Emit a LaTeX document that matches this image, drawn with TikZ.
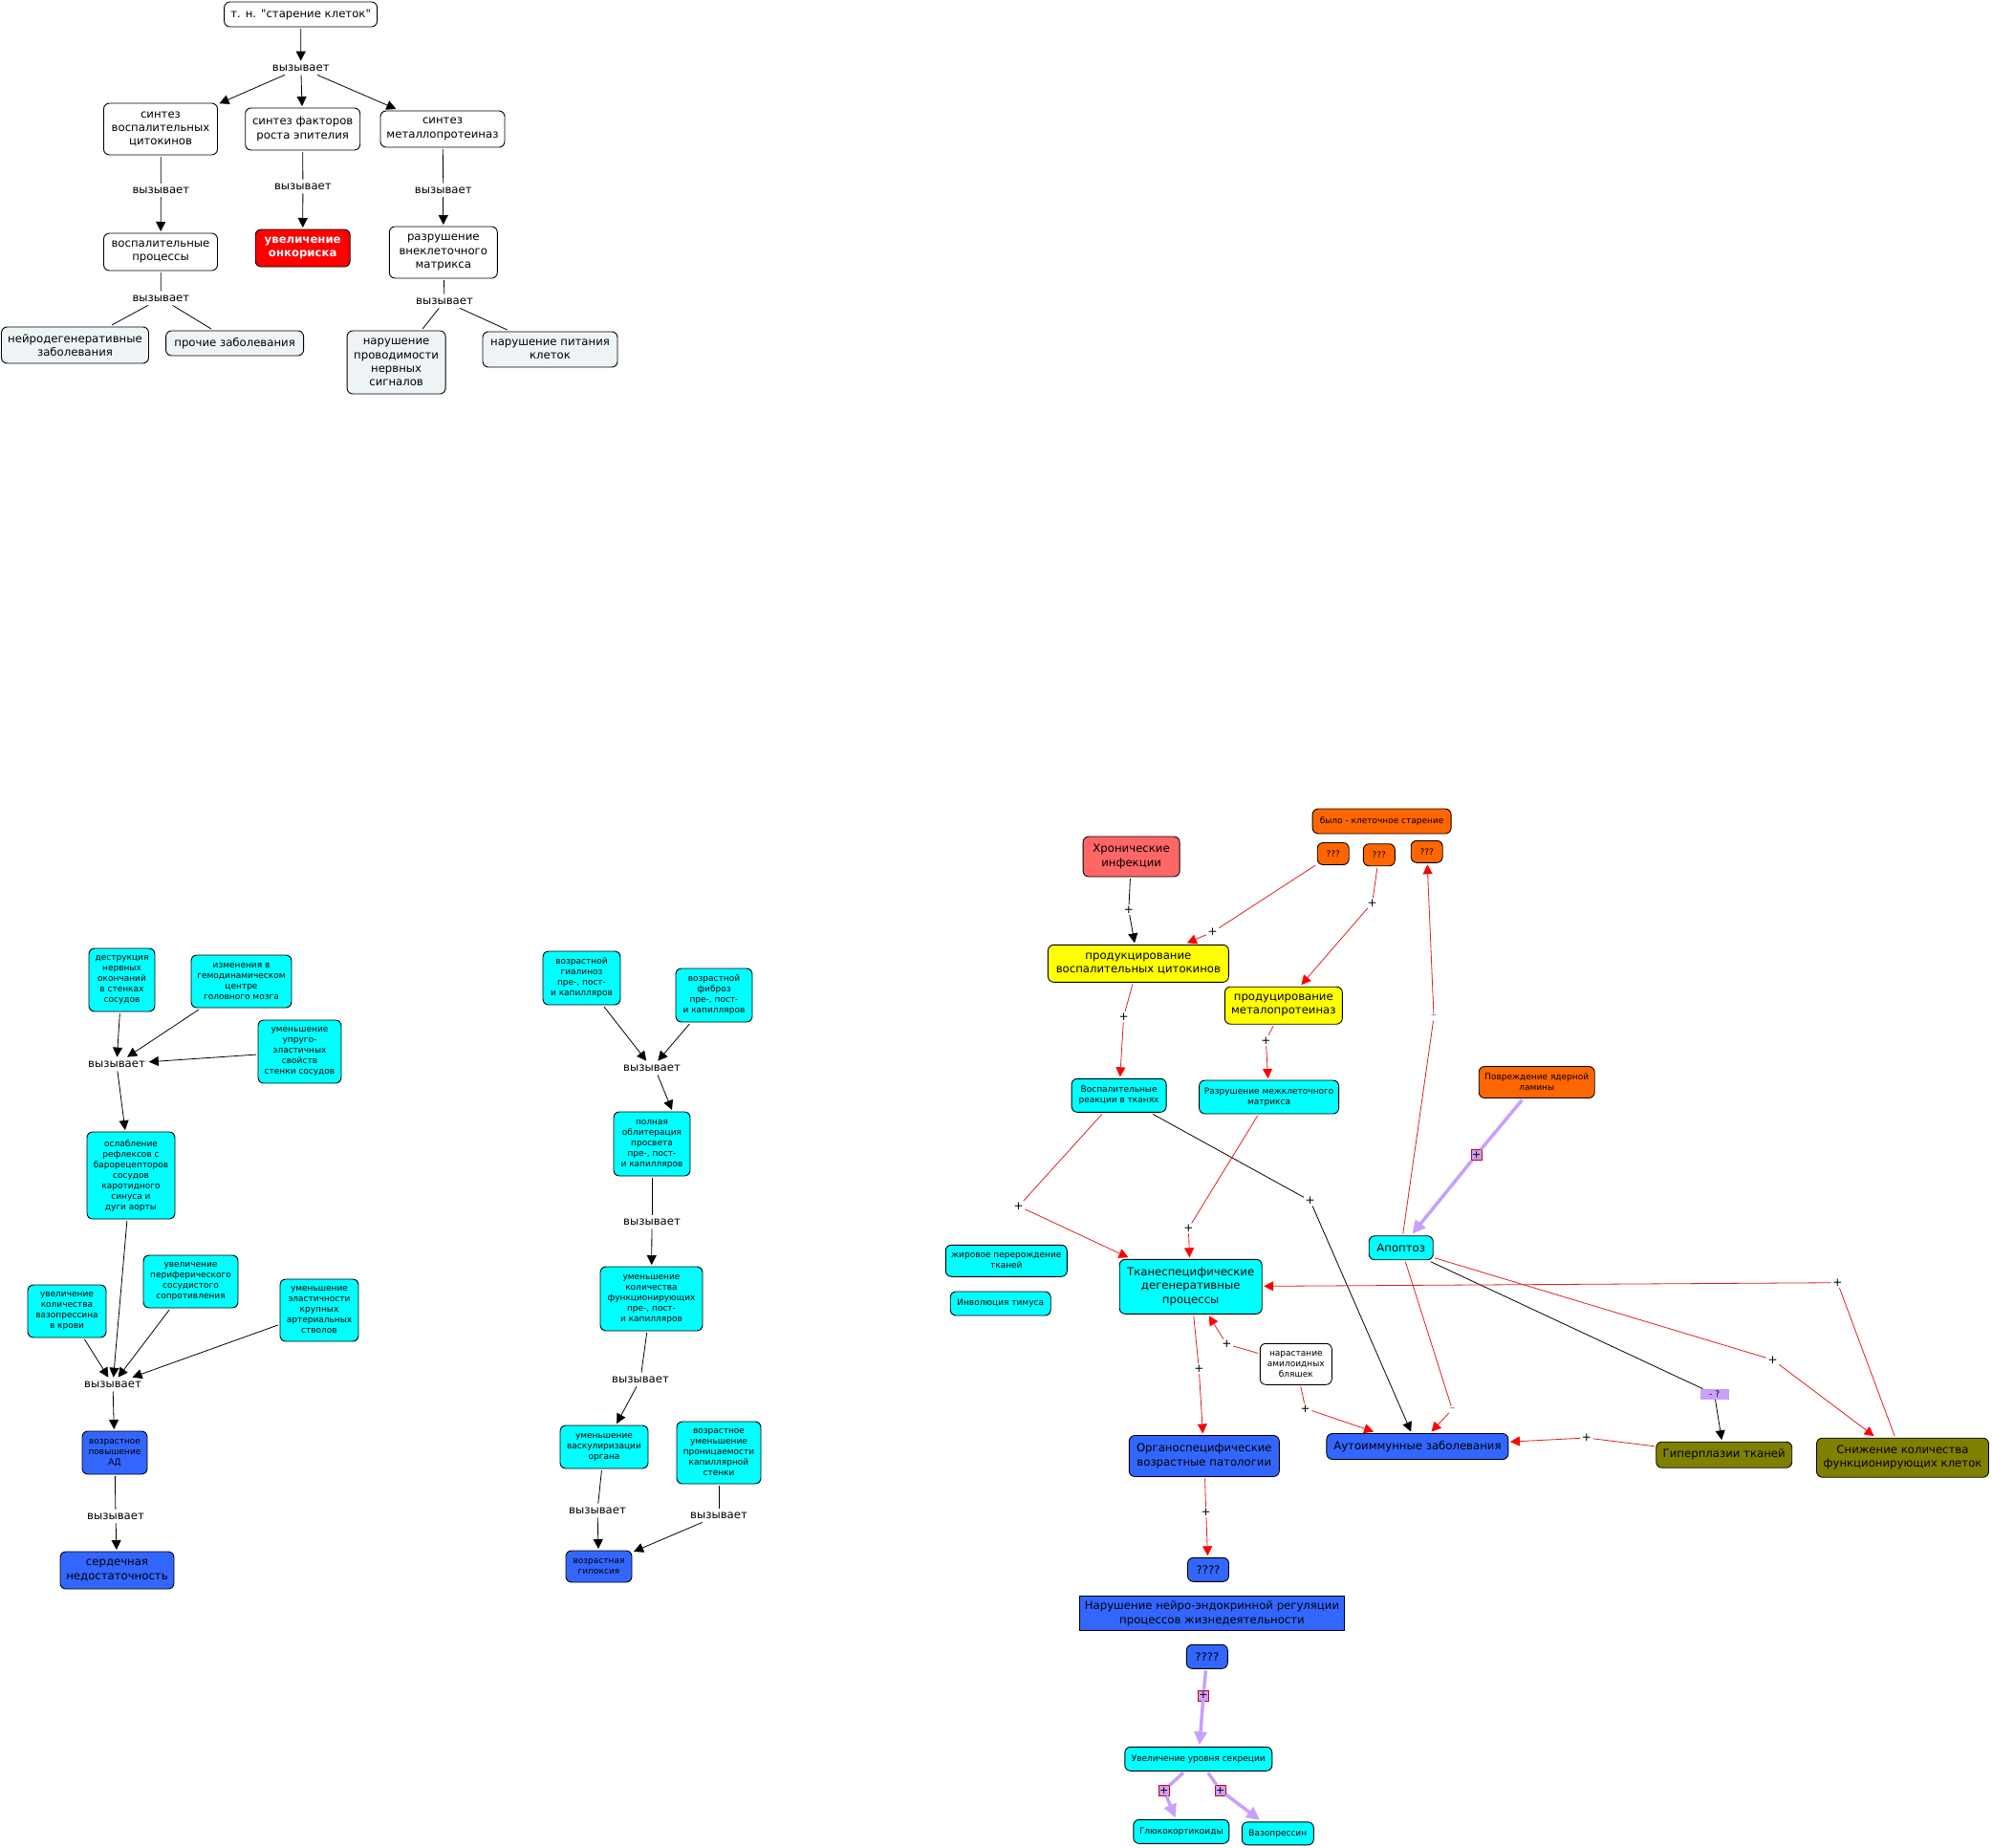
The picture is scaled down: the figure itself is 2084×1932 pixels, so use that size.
\documentclass[tikz,border=0pt]{standalone}
\usepackage{fontspec}
\setmainfont{DejaVu Sans}[Ligatures=TeXOff]
\usetikzlibrary{arrows.meta}
\definecolor{boxcyan}{RGB}{0,255,255}
\definecolor{boxblue}{RGB}{51,102,255}
\definecolor{boxyellow}{RGB}{255,255,0}
\definecolor{boxorange}{RGB}{255,102,0}
\definecolor{boxsalmon}{RGB}{255,102,102}
\definecolor{boxolive}{RGB}{128,128,0}
\definecolor{boxgrey}{RGB}{238,243,246}
\definecolor{linkred}{RGB}{225,30,30}
\definecolor{linkpurple}{RGB}{200,160,255}

\tikzset{
  concept/.style={draw, rounded corners=6pt, align=center, inner sep=1pt, outer sep=2pt,
    line width=0.9pt, font=\fontsize{11.7}{14.3}\selectfont},
  smalltext/.style={font=\fontsize{9}{11}\selectfont},
  greybox/.style={concept, fill=boxgrey},
  cyanbox/.style={concept, fill=boxcyan},
  bluebox/.style={concept, fill=boxblue},
  yellowbox/.style={concept, fill=boxyellow},
  orangebox/.style={concept, fill=boxorange},
  olivebox/.style={concept, fill=boxolive},
  linkword/.style={inner sep=3pt, outer sep=1pt, font=\fontsize{11.7}{14}\selectfont},
  sign/.style={inner sep=1.5pt, font=\fontsize{12}{12}\selectfont},
  boxsign/.style={draw=red!80!black, fill=linkpurple, inner sep=0pt, line width=0.6pt,
    minimum size=11, font=\fontsize{11}{11}\selectfont},
  plain/.style={line width=0.8pt},
  causal/.style={plain, -{Triangle[length=10pt,width=10pt]}},
  redlink/.style={linkred, line width=0.8pt},
  redarrow/.style={redlink, -{Triangle[length=10pt,width=10pt,fill=red,color=red]}},
  purplearrow/.style={linkpurple, line width=3.5pt, -{Triangle[length=14pt,width=13pt]}}
}

\begin{document}
\begin{tikzpicture}[x=1pt, y=-1pt]
    \useasboundingbox (0,0) rectangle (2084,1932);
    \fill[white] (0,0) rectangle (2084,1932);

    % Cell senescence map
    \node[concept, minimum width=160, minimum height=26] (senescence) at (314.6,15) {т. н. "старение клеток"};
    \node[linkword] (causes0) at (314.8,71) {вызывает};
    \node[concept, minimum width=119, minimum height=54] (cytok) at (168,135) {синтез\\воспалительных\\цитокинов};
    \node[concept, minimum width=120, minimum height=44] (growth) at (316.7,135) {синтез факторов\\роста эпителия};
    \node[concept, minimum width=130, minimum height=38] (metal) at (463,135) {синтез\\металлопротеиназ};
    \node[linkword] (causes1) at (168.4,199) {вызывает};
    \node[linkword] (causes2) at (316.9,195) {вызывает};
    \node[linkword] (causes3) at (463.8,199) {вызывает};
    \node[concept, minimum width=119, minimum height=39] (inflam) at (168,263.5) {воспалительные\\процессы};
    \node[concept, fill=red, text=white, minimum width=99, minimum height=39,
      font=\fontsize{11.7}{14.3}\selectfont\bfseries] (onco) at (316.7,259.5) {увеличение\\онкориска};
    \node[concept, minimum width=113, minimum height=54] (matrix) at (463.8,264) {разрушение\\внеклеточного\\матрикса};
    \node[linkword] (causes4) at (168.4,312) {вызывает};
    \node[linkword] (causes5) at (465,315) {вызывает};
    \node[greybox, minimum width=154, minimum height=38] (neuro) at (78.5,361) {нейродегенеративные\\заболевания};
    \node[greybox, minimum width=144, minimum height=26] (other) at (245.6,359) {прочие заболевания};
    \node[greybox, minimum width=103, minimum height=66] (conduct) at (414.6,379) {нарушение\\проводимости\\нервных\\сигналов};
    \node[greybox, minimum width=141, minimum height=37] (nutrit) at (575.5,365.5) {нарушение питания\\клеток};

    \draw[causal] (senescence) -- (causes0);
    \draw[causal] (causes0) -- (cytok);
    \draw[causal] (causes0) -- (growth);
    \draw[causal] (causes0) -- (metal);
    \draw[plain] (cytok) -- (causes1);
    \draw[causal] (causes1) -- (inflam);
    \draw[plain] (growth) -- (causes2);
    \draw[causal] (causes2) -- (onco);
    \draw[plain] (metal) -- (causes3);
    \draw[causal] (causes3) -- (matrix);
    \draw[plain] (inflam) -- (causes4);
    \draw[plain] (causes4) -- (neuro);
    \draw[plain] (causes4) -- (other);
    \draw[plain] (matrix) -- (causes5);
    \draw[plain] (causes5) -- (conduct);
    \draw[plain] (causes5) -- (nutrit);

    % Blood pressure
    \node[cyanbox, smalltext, minimum width=69, minimum height=66] (destr) at (127.5,1025) {деструкция\\нервных\\окончаний\\в стенках\\сосудов};
    \node[cyanbox, smalltext, minimum width=105, minimum height=55] (hemo) at (252.5,1026.5) {изменения в\\гемодинамическом\\центре\\головного мозга};
    \node[cyanbox, smalltext, minimum width=87, minimum height=66] (elast) at (313.5,1100) {уменьшение\\упруго-\\эластичных\\свойств\\стенки сосудов};
    \node[linkword] (causesA) at (122,1113) {вызывает};
    \node[cyanbox, smalltext, minimum width=92, minimum height=91] (baro) at (137,1229.5) {ослабление\\рефлексов с\\барорецепторов\\сосудов\\каротидного\\синуса и\\дуги аорты};
    \node[cyanbox, smalltext, minimum width=82, minimum height=55] (vaso) at (70,1371.5) {увеличение\\количества\\вазопрессина\\в крови};
    \node[cyanbox, smalltext, minimum width=99, minimum height=55] (perif) at (199.5,1340.5) {увеличение\\периферического\\сосудистого\\сопротивления};
    \node[cyanbox, smalltext, minimum width=82, minimum height=65] (arter) at (334,1370.5) {уменьшение\\эластичности\\крупных\\артериальных\\стволов};
    \node[linkword] (causesB) at (118,1448) {вызывает};
    \node[bluebox, smalltext, minimum width=68, minimum height=45] (pressure) at (120,1519.5) {возрастное\\повышение\\АД};
    \node[linkword] (causesC) at (121,1586) {вызывает};
    \node[bluebox, minimum width=119, minimum height=39] (heart) at (122.5,1642.5) {сердечная\\недостаточность};

    \draw[causal] (destr) -- (causesA);
    \draw[causal] (hemo) -- (causesA);
    \draw[causal] (elast) -- (causesA);
    \draw[causal] (causesA) -- (baro);
    \draw[causal] (baro) -- (causesB);
    \draw[causal] (vaso) -- (causesB);
    \draw[causal] (perif) -- (causesB);
    \draw[causal] (arter) -- (causesB);
    \draw[causal] (causesB) -- (pressure);
    \draw[plain] (pressure) -- (causesC);
    \draw[causal] (causesC) -- (heart);

    % Hypoxia
    \node[cyanbox, smalltext, minimum width=81, minimum height=56] (hyal) at (608.5,1023) {возрастной\\гиалиноз\\пре-, пост-\\и капилляров};
    \node[cyanbox, smalltext, minimum width=80, minimum height=56] (fibr) at (747,1041) {возрастной\\фиброз\\пре-, пост-\\и капилляров};
    \node[linkword] (causesD) at (682,1117) {вызывает};
    \node[cyanbox, smalltext, minimum width=80, minimum height=67] (oblit) at (682,1196.5) {полная\\облитерация\\просвета\\пре-, пост-\\и капилляров};
    \node[linkword] (causesE) at (682,1278) {вызывает};
    \node[cyanbox, smalltext, minimum width=107, minimum height=67] (func) at (681.5,1358.5) {уменьшение\\количества\\функционирующих\\пре-, пост-\\и капилляров};
    \node[linkword] (causesF) at (670,1443) {вызывает};
    \node[cyanbox, smalltext, minimum width=92, minimum height=45] (vascul) at (632,1513.5) {уменьшение\\васкулиризации\\органа};
    \node[cyanbox, smalltext, minimum width=88, minimum height=65] (permea) at (752,1519.5) {возрастное\\уменьшение\\проницаемости\\капиллярной\\стенки};
    \node[linkword] (causesG) at (625,1580) {вызывает};
    \node[linkword] (causesH) at (752,1585) {вызывает};
    \node[bluebox, smalltext, minimum width=69, minimum height=33] (hypox) at (626.5,1638.5) {возрастная\\гипоксия};

    \draw[causal] (hyal) -- (causesD);
    \draw[causal] (fibr) -- (causesD);
    \draw[causal] ([xshift=6pt]causesD.south) -- ([xshift=21pt]oblit.north);
    \draw[plain] (oblit) -- (causesE);
    \draw[causal] (causesE) -- (func);
    \draw[plain] (func) -- (causesF);
    \draw[causal] (causesF) -- (vascul);
    \draw[plain] (vascul) -- (causesG);
    \draw[causal] (causesG) -- (hypox);
    \draw[plain] (permea) -- (causesH);
    \draw[causal] (causesH) -- (hypox);

    % Ageing mechanisms
    \node[orangebox, smalltext, minimum width=145, minimum height=26] (wasold) at (1445.6,859) {было - клеточное старение};
    \node[concept, fill=boxsalmon, minimum width=101, minimum height=42] (chronic) at (1183.6,896) {Хронические\\инфекции};
    \node[orangebox, smalltext, minimum width=33, minimum height=23] (qa) at (1394.7,893) {???};
    \node[orangebox, smalltext, minimum width=33, minimum height=23] (qb) at (1442.8,894.2) {???};
    \node[orangebox, smalltext, minimum width=33, minimum height=23] (qc) at (1492.7,890.8) {???};
    \node[yellowbox, minimum width=189, minimum height=39] (cytprod) at (1190.9,1007.8) {продукцирование\\воспалительных цитокинов};
    \node[yellowbox, minimum width=123, minimum height=39] (mmpprod) at (1342.8,1051.7) {продуцирование\\металопротеиназ};
    \node[cyanbox, smalltext, minimum width=99, minimum height=35] (tissinfl) at (1170.6,1145.8) {Воспалительные\\реакции в тканях};
    \node[cyanbox, smalltext, minimum width=146, minimum height=35] (ecmdestr) at (1327.6,1147.5) {Разрушение межклеточного\\матрикса};
    \node[orangebox, smalltext, minimum width=121, minimum height=33] (lamina) at (1607.7,1132) {Повреждение ядерной\\ламины};
    \node[cyanbox, minimum width=67, minimum height=25] (apopt) at (1465.7,1305.2) {Апоптоз};
    \node[cyanbox, minimum width=149, minimum height=57] (tissdeg) at (1245.7,1345.8) {Тканеспецифические\\дегенеративные\\процессы};
    \node[cyanbox, smalltext, minimum width=127, minimum height=33] (fatty) at (1052.8,1318.8) {жировое перерождение\\тканей};
    \node[cyanbox, smalltext, minimum width=105, minimum height=25] (thymus) at (1046.7,1363.5) {Инволюция тимуса};
    \node[concept, smalltext, minimum width=75, minimum height=43] (amyl) at (1355.8,1426.8) {нарастание\\амилоидных\\бляшек};
    \node[bluebox, minimum width=157, minimum height=43] (organ) at (1259.8,1523) {Органоспецифические\\возрастные патологии};
    \node[bluebox, minimum width=190, minimum height=27] (autoim) at (1482.9,1513) {Аутоиммунные заболевания};
    \node[olivebox, minimum width=142, minimum height=27] (hyperpl) at (1803.7,1521.7) {Гиперплазии тканей};
    \node[olivebox, minimum width=180, minimum height=41] (cellloss) at (1990.5,1524.7) {Снижение количества\\функционирующих клеток};
    \node[bluebox, minimum width=43, minimum height=25] (qqa) at (1264,1641.8) {????};
    \node[bluebox, rounded corners=0pt, minimum width=277, minimum height=36] (neuroendo) at (1268,1687.8) {Нарушение нейро-эндокринной регуляции\\процессов жизнедеятельности};
    \node[bluebox, minimum width=43, minimum height=25] (qqb) at (1262.8,1732.8) {????};
    \node[cyanbox, smalltext, minimum width=154, minimum height=25] (secret) at (1253.8,1839.8) {Увеличение уровня секреции};
    \node[cyanbox, smalltext, minimum width=100, minimum height=25] (gluco) at (1235.8,1915.8) {Глюкокортикоиды};
    \node[cyanbox, smalltext, minimum width=75, minimum height=24] (vasop) at (1336.8,1917.8) {Вазопрессин};

    % Link signs
    \node[sign] (pl1) at (1180.8,951.7) {+};
    \node[sign] (pl2) at (1268.6,975) {+};
    \node[sign] (pl3) at (1435.6,944.3) {+};
    \node[sign] (pl4) at (1175.6,1063.3) {+};
    \node[sign] (pl5) at (1324.4,1088.3) {+};
    \node[sign] (pl6) at (1065.7,1261.7) {+};
    \node[sign] (pl7) at (1370.7,1256) {+};
    \node[sign] (pl8) at (1243.3,1285) {+};
    \node[sign] (pl9) at (1283.3,1406) {+};
    \node[sign] (pl10) at (1365.7,1473.3) {+};
    \node[sign] (pl11) at (1254.3,1431.7) {+};
    \node[sign] (pl12) at (1854.6,1422.3) {+};
    \node[sign] (pl13) at (1922.4,1341.7) {+};
    \node[sign] (pl14) at (1659.9,1504) {+};
    \node[sign] (pl15) at (1261.7,1581.7) {+};
    \node[sign, text=gray] (mi1) at (1500,1064) {–};
    \node[sign, text=gray] (mi2) at (1519.3,1474.3) {–};
    \node[fill=linkpurple, inner sep=0pt, minimum width=30, minimum height=11, smalltext] (qm) at (1793.6,1458.3) {- ?};
    \node[boxsign] (pb1) at (1544.6,1208) {+};
    \node[boxsign] (pb2) at (1259,1773.3) {+};
    \node[boxsign] (pb3) at (1217.7,1872.7) {+};
    \node[boxsign] (pb4) at (1276.7,1872.7) {+};

    \draw[causal] (chronic) -- (pl1) -- (cytprod);
    \draw[redarrow] (qa) -- (pl2) -- (cytprod);
    \draw[redarrow] (qb) -- (pl3) -- (mmpprod);
    \draw[redarrow] (cytprod) -- (pl4) -- (tissinfl);
    \draw[redarrow] (mmpprod) -- (pl5) -- (ecmdestr);
    \draw[redarrow] (tissinfl) -- (pl6) -- (tissdeg);
    \draw[causal] (tissinfl) -- (pl7) -- (autoim);
    \draw[redarrow] (ecmdestr) -- (pl8) -- (tissdeg);
    \draw[redarrow] (apopt) -- (mi1) -- (qc);
    \draw[purplearrow] (lamina) -- (pb1) -- (apopt);
    \draw[redarrow] (amyl) -- (pl9) -- (tissdeg);
    \draw[redarrow] (amyl) -- (pl10) -- (autoim);
    \draw[redarrow] (tissdeg) -- (pl11) -- (organ);
    \draw[redarrow] (apopt) -- (mi2) -- (autoim);
    \draw[causal] (apopt) -- (qm) -- (hyperpl);
    \draw[redarrow] (apopt) -- (pl12) -- (cellloss);
    \draw[redarrow] (cellloss) -- (pl13) -- (tissdeg);
    \draw[redarrow] (hyperpl) -- (pl14) -- (autoim);
    \draw[redarrow] (organ) -- (pl15) -- (qqa);
    \draw[purplearrow] (qqb) -- (pb2) -- (secret);
    \draw[purplearrow] (secret) -- (pb3) -- (gluco);
    \draw[purplearrow] (secret) -- (pb4) -- (vasop);
\end{tikzpicture}
\end{document}
